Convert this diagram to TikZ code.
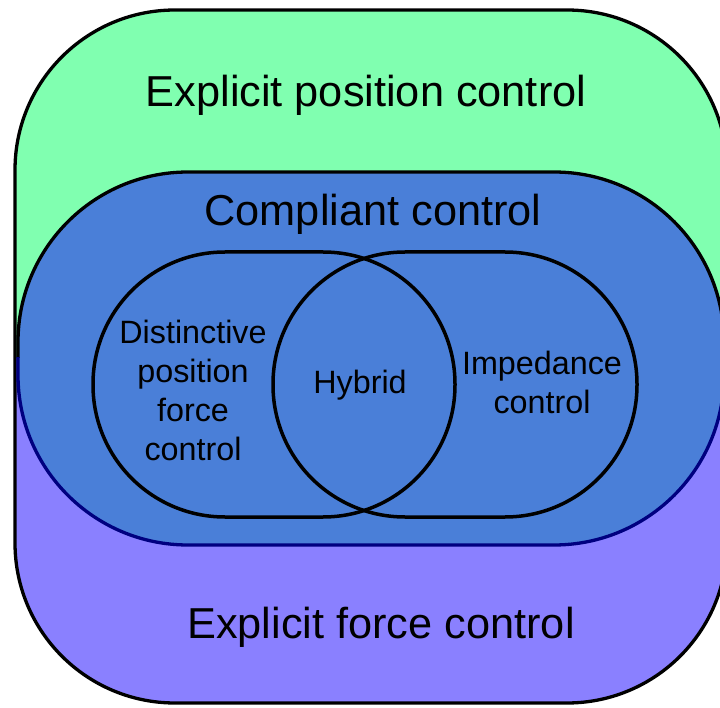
\documentclass[tikz,border=0pt]{standalone}
\usepackage{fontspec}
\setmainfont{Liberation Sans}
\usepackage{tikz}
\usetikzlibrary{positioning,calc}

\definecolor{posgreen}{RGB}{128,255,176}
\definecolor{forcepurple}{RGB}{138,128,255}
\definecolor{complblue}{RGB}{74,127,216}
\definecolor{edgenavy}{RGB}{0,0,128}

\begin{document}
\begin{tikzpicture}[x=1pt,y=-1pt,
  bigtext/.style={inner sep=0pt, font=\fontsize{43.3}{48}\selectfont},
  smalltext/.style={inner sep=0pt, align=center, font=\fontsize{32.3}{39}\selectfont},
  ring/.style={draw=black, line width=3.5pt}]
\clip (0,0) rectangle (720,708);

% outer box, split in two halves
\begin{scope}
\clip[rounded corners=160pt] (15,10) rectangle (727,703);
\fill[posgreen] (0,0) rectangle (730,358);
\fill[forcepurple] (0,358) rectangle (730,708);
\end{scope}
\draw[draw=black, line width=3.3pt, rounded corners=160pt] (15,10) rectangle (727,703);

% compliant control
\fill[complblue, rounded corners=170pt] (18,172) rectangle (724,545);
\begin{scope}
\clip (0,0) rectangle (730,358);
\draw[draw=black, line width=3.3pt, rounded corners=170pt] (18,172) rectangle (724,545);
\end{scope}
\begin{scope}
\clip (0,358) rectangle (730,708);
\draw[draw=edgenavy, line width=3.3pt, rounded corners=170pt] (18,172) rectangle (724,545);
\end{scope}

% the two inner sets
\draw[ring, rounded corners=132pt] (93,252) rectangle (455,517);
\draw[ring, rounded corners=132pt] (273,252) rectangle (637,517);

\node[bigtext, anchor=base] (pos) at (366,107) {Explicit position control};
\node[bigtext, anchor=base] (compl) at (373,226) {Compliant control};
\node[bigtext, anchor=base] (force) at (381,638) {Explicit force control};

\node[smalltext] (dist) at (193,390) {Distinctive\\position\\force\\control};
\node[smalltext, anchor=base] (hyb) at (360,393) {Hybrid};
\node[smalltext] (imp) at (542,382) {Impedance\\control};
\end{tikzpicture}
\end{document}
